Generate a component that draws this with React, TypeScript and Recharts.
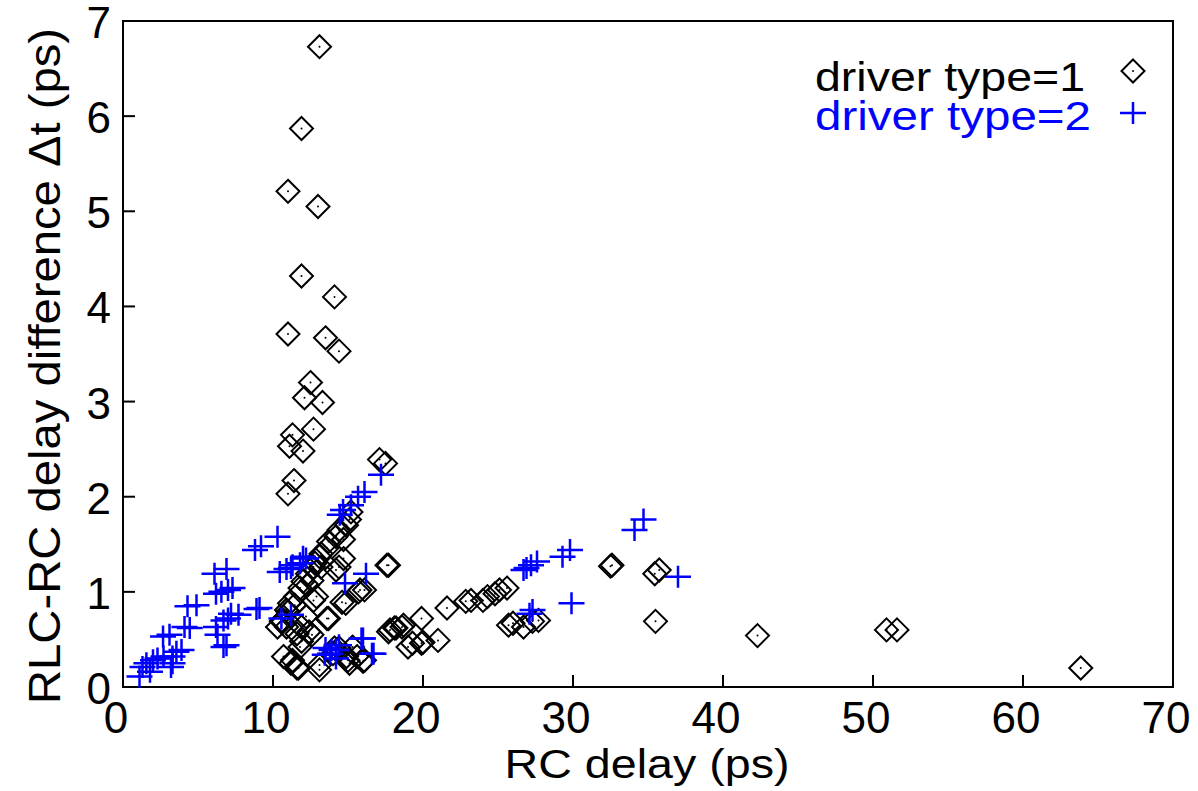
import React from "react";
import { ScatterChart, Scatter, XAxis, YAxis, ReferenceArea } from "recharts";

// driver type 1: [RC delay (ps), RLC-RC delay difference (ps)]
const driverType1: [number, number][] = [
  [13.1, 6.73], [11.9, 5.87], [11.0, 5.21], [13.0, 5.05], [11.9, 4.32], [14.1, 4.1],
  [11.0, 3.71], [13.5, 3.67], [14.4, 3.53], [12.5, 3.2], [12.1, 3.04], [13.3, 2.99],
  [12.7, 2.71], [11.3, 2.65], [11.1, 2.53], [12.0, 2.48], [11.4, 2.17], [11.0, 2.03],
  [17.1, 2.39], [17.5, 2.35],
  [15.2, 1.84], [15.1, 1.76], [14.9, 1.7], [14.4, 1.65], [14.2, 1.58], [14.7, 1.55],
  [13.7, 1.53], [13.6, 1.46], [13.2, 1.4], [14.7, 1.35], [13.1, 1.37], [12.8, 1.3],
  [12.7, 1.26], [14.4, 1.26], [13.2, 1.26], [14.2, 1.23], [12.3, 1.19], [12.6, 1.12],
  [12.0, 1.11], [12.3, 1.07], [11.8, 1.04], [11.5, 0.95], [12.9, 0.95], [12.7, 0.91],
  [11.1, 0.88], [11.45, 0.86], [14.85, 0.88], [14.6, 0.89], [10.9, 0.81], [11.0, 0.79],
  [10.6, 0.7], [10.55, 0.69], [10.3, 0.63], [10.9, 0.63], [11.9, 0.63], [12.2, 0.74],
  [13.6, 0.72], [13.7, 0.72], [12.4, 0.58], [11.6, 0.56], [12.6, 0.55], [11.9, 0.48],
  [11.8, 0.42], [17.7, 1.28], [17.6, 1.28], [15.8, 1.02], [16.1, 1.02], [15.7, 1.0],
  [10.7, 0.32], [11.2, 0.25], [11.3, 0.28], [11.6, 0.2], [11.7, 0.2], [13.1, 0.18],
  [13.1, 0.23], [14.0, 0.35], [14.1, 0.41], [14.4, 0.41], [14.9, 0.32], [15.0, 0.28],
  [15.1, 0.25], [15.3, 0.42], [15.6, 0.32], [16.0, 0.27], [16.1, 0.28],
  [17.7, 0.58], [17.8, 0.6], [18.1, 0.62], [18.2, 0.62], [18.6, 0.63], [18.7, 0.65],
  [19.0, 0.42], [19.3, 0.46], [19.9, 0.46], [20.0, 0.47], [21.0, 0.49], [19.9, 0.72],
  [21.6, 0.83], [22.85, 0.9], [23.2, 0.91], [24.0, 0.91], [24.3, 0.95], [24.8, 0.98],
  [25.1, 1.02], [25.6, 1.04], [25.7, 0.65], [26.0, 0.67], [26.7, 0.63], [27.3, 0.69],
  [27.7, 0.7], [32.5, 1.27], [32.6, 1.28], [35.45, 1.19], [35.75, 1.23], [35.5, 0.69],
  [42.3, 0.54], [50.9, 0.6], [51.6, 0.6], [63.85, 0.2],
];

// driver type 2
const driverType2: [number, number][] = [
  [1.1, 0.11], [1.3, 0.21], [1.56, 0.25], [1.8, 0.16], [2.0, 0.28], [2.3, 0.3],
  [2.7, 0.32], [3.2, 0.21], [3.3, 0.32], [3.56, 0.37], [3.9, 0.39], [3.3, 0.25],
  [2.67, 0.53], [3.1, 0.55], [4.1, 0.63], [4.45, 0.62], [4.3, 0.85], [4.9, 0.86],
  [6.1, 1.19], [6.9, 1.24], [6.2, 0.98], [6.56, 1.0], [7.0, 1.02], [7.3, 1.04],
  [6.2, 0.63], [6.7, 0.7], [7.0, 0.72], [7.2, 0.77], [7.7, 0.76], [6.3, 0.55],
  [6.7, 0.42], [6.9, 0.44], [8.8, 1.44], [9.2, 1.48], [10.3, 1.58], [8.9, 0.82],
  [9.1, 0.83], [10.45, 1.21], [10.9, 1.24], [11.2, 1.25], [11.3, 1.28], [11.8, 1.3],
  [12.0, 1.37], [12.2, 1.35], [10.56, 0.72], [11.2, 0.76],
  [14.45, 1.81], [14.67, 1.86], [15.2, 1.91], [15.67, 2.0], [16.1, 2.05], [17.2, 2.23],
  [14.8, 1.09], [16.2, 1.19],
  [13.5, 0.41], [13.45, 0.34], [13.8, 0.35], [13.9, 0.39], [14.2, 0.39], [14.2, 0.3],
  [14.4, 0.44], [15.9, 0.51], [16.0, 0.51], [16.6, 0.35], [16.7, 0.35],
  [26.7, 1.23], [26.9, 1.25], [27.2, 1.28], [27.6, 1.32], [29.3, 1.37], [29.8, 1.44],
  [34.1, 1.65], [34.7, 1.76], [37.0, 1.16], [29.9, 0.88], [27.1, 0.77], [27.3, 0.81],
];

const xTicks = [0, 10, 20, 30, 40, 50, 60, 70];
const yTicks = [0, 1, 2, 3, 4, 5, 6, 7];

const FONT = "'Liberation Sans', Arial, Helvetica, sans-serif";
const BLUE = "#0000ff";

const toPoints = (rows: [number, number][]) => rows.map(([x, y]) => ({ x, y }));

function Diamond({ cx, cy, r = 11.5 }: { cx: number; cy: number; r?: number }) {
  return (
    <g>
      <path
        d={`M${cx},${cy - r}L${cx + r},${cy}L${cx},${cy + r}L${cx - r},${cy}Z`}
        fill="none"
        stroke="#000"
        strokeWidth={2}
      />
      <circle cx={cx} cy={cy} r={1} fill="#000" />
    </g>
  );
}

function Plus({ cx, cy }: { cx: number; cy: number }) {
  return (
    <path
      d={`M${cx - 13},${cy}H${cx + 13}M${cx},${cy - 11}V${cy + 11}`}
      stroke={BLUE}
      strokeWidth={2.5}
      fill="none"
    />
  );
}

function XTick({ x, y, payload }: any) {
  return (
    <g>
      <line x1={x} x2={x} y1={y} y2={y - 12} stroke="#000" strokeWidth={2} />
      <text x={x - 7} y={y + 46} textAnchor="middle" fontSize={44} fontFamily={FONT} fill="#000">
        {payload.value}
      </text>
    </g>
  );
}

function YTick({ x, y, payload }: any) {
  return (
    <g>
      <line x1={x} x2={x + 12} y1={y} y2={y} stroke="#000" strokeWidth={2} />
      <text x={x - 12} y={y + 17} textAnchor="end" fontSize={44} fontFamily={FONT} fill="#000">
        {payload.value}
      </text>
    </g>
  );
}

const xLabel = () => (
  <text
    x={647}
    y={778}
    textAnchor="middle"
    fontSize={41}
    fontFamily={FONT}
    fill="#000"
    textLength={285}
    lengthAdjust="spacingAndGlyphs"
  >
    RC delay (ps)
  </text>
);

const yLabel = () => (
  <text
    x={60}
    y={366}
    transform="rotate(-90 60 366)"
    textAnchor="middle"
    fontSize={45}
    fontFamily={FONT}
    fill="#000"
    textLength={676}
    lengthAdjust="spacingAndGlyphs"
  >
    RLC-RC delay difference Δt (ps)
  </text>
);

function LegendBox() {
  return (
    <svg
      width={340}
      height={90}
      style={{ position: "absolute", left: 815, top: 52, display: "block" }}
    >
      <text x={0} y={39} fontSize={41} fontFamily={FONT} fill="#000" textLength={270} lengthAdjust="spacingAndGlyphs">
        driver type=1
      </text>
      <Diamond cx={318} cy={19} />
      <text x={0} y={78} fontSize={41} fontFamily={FONT} fill={BLUE} textLength={276} lengthAdjust="spacingAndGlyphs">
        driver type=2
      </text>
      <Plus cx={318} cy={61} />
    </svg>
  );
}

export default function App() {
  return (
    <div style={{ position: "absolute", left: 0, top: 0, width: 1198, height: 791, background: "#fff" }}>
      <ScatterChart width={1198} height={791} margin={{ top: 21, right: 25, bottom: 44, left: 13 }}>
        <XAxis
          type="number"
          dataKey="x"
          domain={[0, 70]}
          ticks={xTicks}
          height={60}
          axisLine={{ stroke: "#000", strokeWidth: 2 }}
          tickLine={false}
          tickSize={0}
          tickMargin={0}
          tick={<XTick />}
          label={{ content: xLabel }}
        />
        <YAxis
          type="number"
          dataKey="y"
          domain={[0, 7]}
          ticks={yTicks}
          width={110}
          axisLine={{ stroke: "#000", strokeWidth: 2 }}
          tickLine={false}
          tickSize={0}
          tickMargin={0}
          tick={<YTick />}
          label={{ content: yLabel }}
        />
        <ReferenceArea x1={0} x2={70} y1={0} y2={7} fill="none" stroke="#000" strokeWidth={2} />
        <Scatter
          name="driver type=1"
          data={toPoints(driverType1)}
          isAnimationActive={false}
          shape={(p: any) => <Diamond cx={p.cx} cy={p.cy} />}
        />
        <Scatter
          name="driver type=2"
          data={toPoints(driverType2)}
          isAnimationActive={false}
          shape={(p: any) => <Plus cx={p.cx} cy={p.cy} />}
        />
      </ScatterChart>
      <LegendBox />
    </div>
  );
}
